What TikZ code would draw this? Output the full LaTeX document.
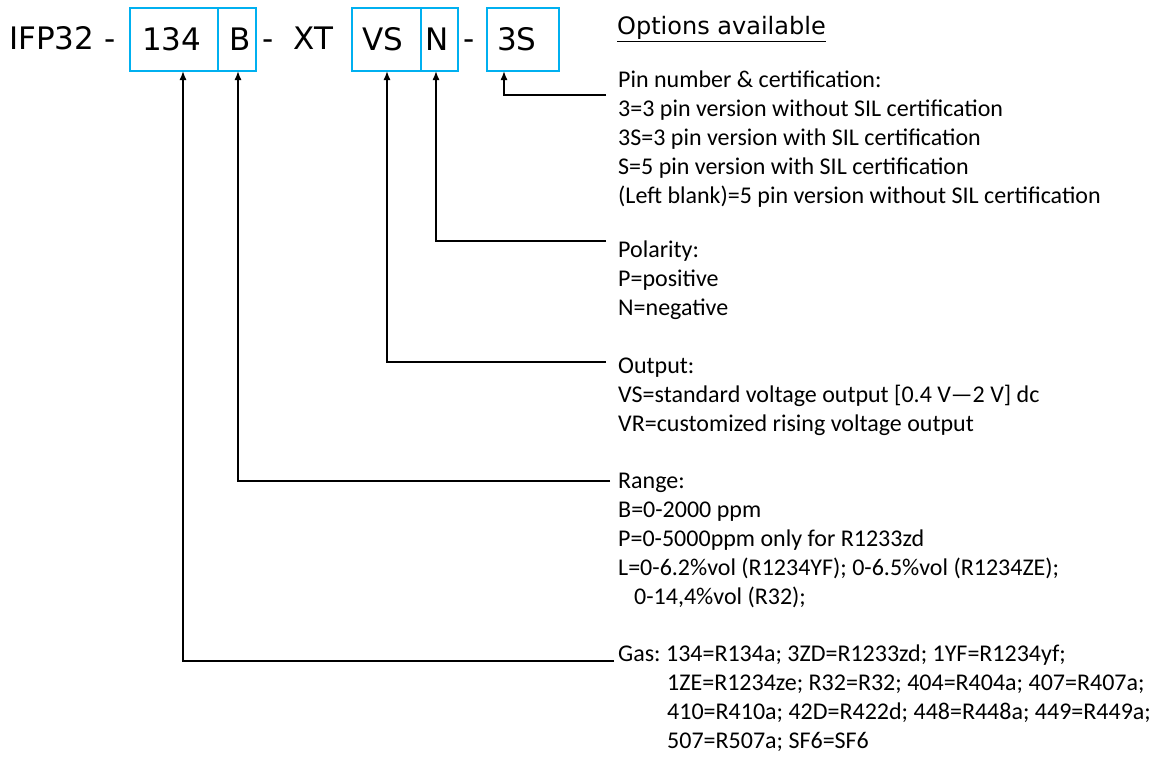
\documentclass[tikz,border=0pt]{standalone}
\usepackage{fontspec}
\setmainfont{Carlito}
\newfontfamily\verd{DejaVu Sans}
\usetikzlibrary{arrows.meta,positioning}
\frenchspacing
\definecolor{segblue}{RGB}{0,176,240}
\tikzset{
  seg/.style={draw=segblue, line width=2pt, minimum height=63pt, inner ysep=0pt, outer sep=0pt,
    align=left, text height=23pt, text depth=0pt, font=\verd\fontsize{31}{31}\selectfont},
  ttl/.style={inner sep=0pt, anchor=base west, font=\verd\fontsize{31}{31}\selectfont},
  lead/.style={line width=1.4pt, -{Latex[length=9pt,width=7pt]}},
  opt/.style={inner sep=0pt, anchor=base west, align=left, font=\fontsize{24}{29}\selectfont},
}
\begin{document}
\begin{tikzpicture}[x=1pt,y=-1pt]
\useasboundingbox (0,0) rectangle (1153,760);
% part number
\node[ttl] (pre) at (9,50) {IFP32 -};
\node[seg, inner xsep=12pt, text width=64pt, anchor=north west] (s134) at (130,8) {134};
\node[seg, inner xsep=11pt, text width=16pt, right=0pt of s134] (sB) {B};
\node[ttl] (mid) at (262,50) {-\hspace{20pt}XT};
\node[seg, inner xsep=10pt, text width=49pt, anchor=north west] (sVS) at (352,8) {VS};
\node[seg, inner xsep=4pt, text width=29pt, right=0pt of sVS] (sN) {N};
\node[ttl] (dash) at (463,50) {-};
\node[seg, inner xsep=10pt, text width=52pt, anchor=north west] (s3S) at (487,8) {3S};
\node[inner sep=0pt, anchor=base west, font=\verd\fontsize{24}{24}\selectfont] (hdr) at (617,35) {\underline{Options available}};

% options (base = last line)
\node[opt] (pin) at (618,203) {Pin number \& certification:\\
  3=3 pin version without SIL certification\\
  3S=3 pin version with SIL certification\\
  S=5 pin version with SIL certification\\
  (Left blank)=5 pin version without SIL certification};
\node[opt] (pol) at (618,315) {Polarity:\\P=positive\\N=negative};
\node[opt] (out) at (618,431) {Output:\\
  VS=standard voltage output [0.4 V—2 V] dc\\
  VR=customized rising voltage output};
\node[opt] (rng) at (618,604) {Range:\\
  B=0-2000 ppm\\
  P=0-5000ppm only for R1233zd\\
  L=0-6.2\%vol (R1234YF); 0-6.5\%vol (R1234ZE);\\
  \hspace*{16pt}0-14,4\%vol (R32);};
\node[opt] (gas) at (618,748) {Gas: 134=R134a; 3ZD=R1233zd; 1YF=R1234yf;\\
  \hspace*{49pt}1ZE=R1234ze; R32=R32; 404=R404a; 407=R407a;\\
  \hspace*{49pt}410=R410a; 42D=R422d; 448=R448a; 449=R449a;\\
  \hspace*{49pt}507=R507a; SF6=SF6};

\coordinate (ePin) at (606,95);
\coordinate (ePol) at (606,241);
\coordinate (eOut) at (606,362);
\coordinate (eRng) at (610,481);
\coordinate (eGas) at (614,661);

\draw[lead] (ePin) -| ([xshift=-19pt]s3S.south);
\draw[lead] (ePol) -| ([xshift=-3.5pt]sN.south);
\draw[lead] (eOut) -| ([xshift=0.5pt]sVS.south);
\draw[lead] (eRng) -| ([xshift=1pt]sB.south);
\draw[lead] (eGas) -| ([xshift=9pt]s134.south);
\end{tikzpicture}
\end{document}
